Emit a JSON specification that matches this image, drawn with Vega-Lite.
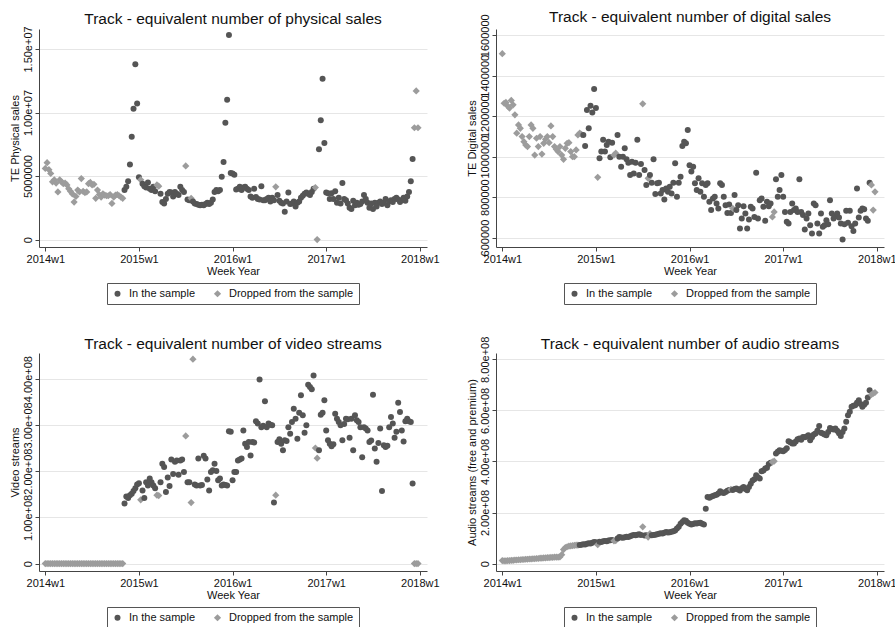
{
"$schema": "https://vega.github.io/schema/vega-lite/v6.json",
"background": "white",
"padding": {"left": 8, "top": 10, "right": 0, "bottom": 0},
"bounds": "flush",
"spacing": {"row": 106, "column": 69},
"columns": 2,
"config": {
"font": "Liberation Sans",
"view": {"stroke": null},
"axis": {"labelFont": "Liberation Sans", "titleFont": "Liberation Sans", "labelFontSize": 11, "titleFontSize": 11, "titleFontWeight": "normal", "labelColor": "#111111", "titleColor": "#111111", "domainColor": "#444444", "tickColor": "#444444", "tickSize": 4, "gridColor": "#e6e6e6", "labelPadding": 2, "labelFlush": false},
"axisX": {"grid": false, "titlePadding": 1},
"axisY": {"grid": true, "labelAngle": 270, "labelAlign": "center", "labelBaseline": "bottom", "labelOverlap": false, "titlePadding": 2},
"title": {"font": "Liberation Sans", "fontSize": 15.5, "fontWeight": "normal", "color": "#111111", "anchor": "middle", "frame": "group", "offset": 3},
"legend": {"orient": "bottom", "direction": "horizontal", "strokeColor": "#555555", "padding": 5, "offset": 7, "labelFont": "Liberation Sans", "labelFontSize": 11, "labelColor": "#111111", "columnPadding": 16, "labelOffset": 6, "layout": {"bottom": {"anchor": "middle"}}}
},
"datasets": {
"phys": [
{"w":0,"v":5.6e6,"g":"d"},{"w":1,"v":6.05e6,"g":"d"},{"w":2,"v":5.5e6,"g":"d"},{"w":3,"v":5.2e6,"g":"d"},{"w":4,"v":4.55e6,"g":"d"},{"w":5,"v":4.7e6,"g":"d"},{"w":6,"v":4.45e6,"g":"d"},{"w":7,"v":3.75e6,"g":"d"},{"w":8,"v":4.7e6,"g":"d"},{"w":9,"v":4.55e6,"g":"d"},
{"w":10,"v":4.4e6,"g":"d"},{"w":11,"v":4.45e6,"g":"d"},{"w":12,"v":4.3e6,"g":"d"},{"w":13,"v":4.0e6,"g":"d"},{"w":14,"v":3.8e6,"g":"d"},{"w":15,"v":3.6e6,"g":"d"},{"w":16,"v":2.95e6,"g":"d"},{"w":17,"v":3.4e6,"g":"d"},{"w":18,"v":3.9e6,"g":"d"},{"w":19,"v":3.75e6,"g":"d"},
{"w":20,"v":4.8e6,"g":"d"},{"w":21,"v":3.8e6,"g":"d"},{"w":22,"v":3.7e6,"g":"d"},{"w":23,"v":3.75e6,"g":"d"},{"w":24,"v":4.4e6,"g":"d"},{"w":25,"v":4.5e6,"g":"d"},{"w":26,"v":4.3e6,"g":"d"},{"w":27,"v":4.35e6,"g":"d"},{"w":28,"v":3.25e6,"g":"d"},{"w":29,"v":3.9e6,"g":"d"},
{"w":30,"v":3.55e6,"g":"d"},{"w":31,"v":3.35e6,"g":"d"},{"w":32,"v":3.6e6,"g":"d"},{"w":33,"v":3.5e6,"g":"d"},{"w":34,"v":3.45e6,"g":"d"},{"w":35,"v":3.45e6,"g":"d"},{"w":36,"v":3.55e6,"g":"d"},{"w":37,"v":2.85e6,"g":"d"},{"w":38,"v":3.35e6,"g":"d"},{"w":39,"v":3.5e6,"g":"d"},
{"w":40,"v":3.55e6,"g":"d"},{"w":41,"v":3.45e6,"g":"d"},{"w":42,"v":3.35e6,"g":"d"},{"w":43,"v":3.25e6,"g":"d"},{"w":44,"v":3.9e6,"g":"i"},{"w":45,"v":4.15e6,"g":"i"},{"w":46,"v":4.6e6,"g":"i"},{"w":47,"v":5.9e6,"g":"i"},{"w":48,"v":8.1e6,"g":"i"},{"w":49,"v":10.3e6,"g":"i"},
{"w":50,"v":13.8e6,"g":"i"},{"w":51,"v":10.7e6,"g":"i"},{"w":52,"v":4.9e6,"g":"i"},{"w":53,"v":4.7e6,"g":"d"},{"w":54,"v":4.4e6,"g":"i"},{"w":55,"v":4.2e6,"g":"i"},{"w":56,"v":4.1e6,"g":"i"},{"w":57,"v":4.5e6,"g":"i"},{"w":58,"v":4.0e6,"g":"i"},{"w":59,"v":3.9e6,"g":"i"},
{"w":60,"v":4.15e6,"g":"i"},{"w":61,"v":3.8e6,"g":"i"},{"w":62,"v":4.3e6,"g":"d"},{"w":63,"v":4.2e6,"g":"d"},{"w":64,"v":3.6e6,"g":"i"},{"w":65,"v":2.95e6,"g":"i"},{"w":66,"v":2.85e6,"g":"i"},{"w":67,"v":3.2e6,"g":"i"},{"w":68,"v":3.6e6,"g":"i"},{"w":69,"v":3.75e6,"g":"i"},
{"w":70,"v":3.7e6,"g":"i"},{"w":71,"v":3.4e6,"g":"i"},{"w":72,"v":3.75e6,"g":"i"},{"w":73,"v":3.6e6,"g":"i"},{"w":74,"v":3.5e6,"g":"i"},{"w":75,"v":4.15e6,"g":"i"},{"w":76,"v":3.9e6,"g":"i"},{"w":77,"v":3.75e6,"g":"i"},{"w":78,"v":5.8e6,"g":"d"},{"w":79,"v":3.15e6,"g":"i"},
{"w":80,"v":3.1e6,"g":"i"},{"w":81,"v":3.25e6,"g":"d"},{"w":82,"v":3.0e6,"g":"i"},{"w":83,"v":2.85e6,"g":"i"},{"w":84,"v":2.8e6,"g":"i"},{"w":85,"v":2.75e6,"g":"i"},{"w":86,"v":2.7e6,"g":"i"},{"w":87,"v":2.75e6,"g":"i"},{"w":88,"v":2.7e6,"g":"i"},{"w":89,"v":2.8e6,"g":"i"},
{"w":90,"v":2.9e6,"g":"i"},{"w":91,"v":2.8e6,"g":"i"},{"w":92,"v":2.9e6,"g":"i"},{"w":93,"v":3.15e6,"g":"i"},{"w":94,"v":3.75e6,"g":"i"},{"w":95,"v":3.9e6,"g":"i"},{"w":96,"v":3.8e6,"g":"i"},{"w":97,"v":3.9e6,"g":"i"},{"w":98,"v":4.95e6,"g":"i"},{"w":99,"v":6.1e6,"g":"i"},
{"w":100,"v":9.2e6,"g":"i"},{"w":101,"v":11.0e6,"g":"i"},{"w":102,"v":16.1e6,"g":"i"},{"w":103,"v":5.25e6,"g":"i"},{"w":104,"v":5.2e6,"g":"i"},{"w":105,"v":5.1e6,"g":"i"},{"w":106,"v":3.95e6,"g":"i"},{"w":107,"v":4.0e6,"g":"i"},{"w":108,"v":4.15e6,"g":"i"},{"w":109,"v":3.9e6,"g":"i"},
{"w":110,"v":4.1e6,"g":"i"},{"w":111,"v":4.15e6,"g":"i"},{"w":112,"v":4.0e6,"g":"i"},{"w":113,"v":3.9e6,"g":"i"},{"w":114,"v":3.4e6,"g":"i"},{"w":115,"v":3.3e6,"g":"i"},{"w":116,"v":4.0e6,"g":"i"},{"w":117,"v":3.35e6,"g":"i"},{"w":118,"v":3.2e6,"g":"i"},{"w":119,"v":3.15e6,"g":"i"},
{"w":120,"v":4.2e6,"g":"i"},{"w":121,"v":3.1e6,"g":"i"},{"w":122,"v":3.1e6,"g":"i"},{"w":123,"v":3.2e6,"g":"i"},{"w":124,"v":3.3e6,"g":"i"},{"w":125,"v":3.0e6,"g":"i"},{"w":126,"v":3.3e6,"g":"i"},{"w":127,"v":3.1e6,"g":"i"},{"w":128,"v":4.15e6,"g":"d"},{"w":129,"v":3.5e6,"g":"i"},
{"w":130,"v":3.05e6,"g":"i"},{"w":131,"v":2.9e6,"g":"i"},{"w":132,"v":2.85e6,"g":"i"},{"w":133,"v":2.2e6,"g":"i"},{"w":134,"v":3.0e6,"g":"i"},{"w":135,"v":3.7e6,"g":"i"},{"w":136,"v":2.8e6,"g":"i"},{"w":137,"v":2.85e6,"g":"i"},{"w":138,"v":3.0e6,"g":"i"},{"w":139,"v":2.6e6,"g":"i"},
{"w":140,"v":2.9e6,"g":"i"},{"w":141,"v":3.0e6,"g":"i"},{"w":142,"v":3.3e6,"g":"i"},{"w":143,"v":3.45e6,"g":"i"},{"w":144,"v":3.6e6,"g":"i"},{"w":145,"v":3.7e6,"g":"i"},{"w":146,"v":3.6e6,"g":"i"},{"w":147,"v":3.5e6,"g":"i"},{"w":148,"v":3.75e6,"g":"i"},{"w":149,"v":4.0e6,"g":"i"},
{"w":150,"v":4.1e6,"g":"d"},{"w":151,"v":0,"g":"d"},{"w":152,"v":7.1e6,"g":"i"},{"w":153,"v":9.4e6,"g":"i"},{"w":154,"v":12.65e6,"g":"i"},{"w":155,"v":7.6e6,"g":"i"},{"w":156,"v":3.7e6,"g":"i"},{"w":157,"v":3.65e6,"g":"i"},{"w":158,"v":3.2e6,"g":"i"},{"w":159,"v":3.65e6,"g":"i"},
{"w":160,"v":3.2e6,"g":"i"},{"w":161,"v":3.8e6,"g":"i"},{"w":162,"v":2.9e6,"g":"i"},{"w":163,"v":3.3e6,"g":"i"},{"w":164,"v":2.85e6,"g":"i"},{"w":165,"v":4.45e6,"g":"i"},{"w":166,"v":3.2e6,"g":"i"},{"w":167,"v":3.1e6,"g":"i"},{"w":168,"v":2.85e6,"g":"i"},{"w":169,"v":2.5e6,"g":"i"},
{"w":170,"v":2.4e6,"g":"i"},{"w":171,"v":3.05e6,"g":"i"},{"w":172,"v":2.7e6,"g":"i"},{"w":173,"v":2.9e6,"g":"i"},{"w":174,"v":2.75e6,"g":"i"},{"w":175,"v":2.8e6,"g":"i"},{"w":176,"v":3.0e6,"g":"i"},{"w":177,"v":3.5e6,"g":"i"},{"w":178,"v":3.2e6,"g":"i"},{"w":179,"v":2.9e6,"g":"i"},
{"w":180,"v":2.5e6,"g":"i"},{"w":181,"v":2.85e6,"g":"i"},{"w":182,"v":2.4e6,"g":"i"},{"w":183,"v":2.9e6,"g":"i"},{"w":184,"v":2.6e6,"g":"i"},{"w":185,"v":2.9e6,"g":"i"},{"w":186,"v":3.0e6,"g":"i"},{"w":187,"v":2.8e6,"g":"i"},{"w":188,"v":2.9e6,"g":"i"},{"w":189,"v":3.2e6,"g":"i"},
{"w":190,"v":2.7e6,"g":"i"},{"w":191,"v":3.0e6,"g":"i"},{"w":192,"v":3.1e6,"g":"i"},{"w":193,"v":2.95e6,"g":"i"},{"w":194,"v":3.2e6,"g":"i"},{"w":195,"v":3.3e6,"g":"i"},{"w":196,"v":3.15e6,"g":"i"},{"w":197,"v":2.95e6,"g":"i"},{"w":198,"v":3.1e6,"g":"i"},{"w":199,"v":3.3e6,"g":"i"},
{"w":200,"v":3.05e6,"g":"i"},{"w":201,"v":3.4e6,"g":"i"},{"w":202,"v":3.75e6,"g":"i"},{"w":203,"v":4.6e6,"g":"i"},{"w":204,"v":6.35e6,"g":"i"},{"w":205,"v":8.8e6,"g":"d"},{"w":206,"v":11.7e6,"g":"d"},{"w":207,"v":8.8e6,"g":"d"}
],
"dig": [
{"w":0,"v":1509e3,"g":"d"},{"w":1,"v":1264e3,"g":"d"},{"w":2,"v":1268e3,"g":"d"},{"w":3,"v":1250e3,"g":"d"},{"w":4,"v":1240e3,"g":"d"},{"w":5,"v":1278e3,"g":"d"},{"w":6,"v":1256e3,"g":"d"},{"w":7,"v":1207e3,"g":"d"},{"w":8,"v":1116e3,"g":"d"},{"w":9,"v":1157e3,"g":"d"},
{"w":10,"v":1140e3,"g":"d"},{"w":11,"v":1099e3,"g":"d"},{"w":12,"v":1074e3,"g":"d"},{"w":13,"v":1058e3,"g":"d"},{"w":14,"v":1050e3,"g":"d"},{"w":15,"v":1099e3,"g":"d"},{"w":16,"v":1157e3,"g":"d"},{"w":17,"v":1140e3,"g":"d"},{"w":18,"v":1008e3,"g":"d"},{"w":19,"v":1091e3,"g":"d"},
{"w":20,"v":1050e3,"g":"d"},{"w":21,"v":1099e3,"g":"d"},{"w":22,"v":1013e3,"g":"d"},{"w":23,"v":1066e3,"g":"d"},{"w":24,"v":1086e3,"g":"d"},{"w":25,"v":1099e3,"g":"d"},{"w":26,"v":1069e3,"g":"d"},{"w":27,"v":1152e3,"g":"d"},{"w":28,"v":1099e3,"g":"d"},{"w":29,"v":1050e3,"g":"d"},
{"w":30,"v":1036e3,"g":"d"},{"w":31,"v":1025e3,"g":"d"},{"w":32,"v":1050e3,"g":"d"},{"w":33,"v":1008e3,"g":"d"},{"w":34,"v":987e3,"g":"d"},{"w":35,"v":1041e3,"g":"d"},{"w":36,"v":1066e3,"g":"d"},{"w":37,"v":1069e3,"g":"d"},{"w":38,"v":1025e3,"g":"d"},{"w":39,"v":1000e3,"g":"d"},
{"w":40,"v":1000e3,"g":"d"},{"w":41,"v":1033e3,"g":"d"},{"w":42,"v":1107e3,"g":"d"},{"w":43,"v":1116e3,"g":"d"},{"w":44,"v":1110e3,"g":"d"},{"w":45,"v":1107e3,"g":"i"},{"w":46,"v":1053e3,"g":"i"},{"w":47,"v":1231e3,"g":"i"},{"w":48,"v":1140e3,"g":"i"},{"w":49,"v":1251e3,"g":"i"},
{"w":50,"v":1218e3,"g":"i"},{"w":51,"v":1334e3,"g":"i"},{"w":52,"v":1240e3,"g":"i"},{"w":53,"v":898e3,"g":"d"},{"w":54,"v":992e3,"g":"i"},{"w":55,"v":1025e3,"g":"i"},{"w":56,"v":1083e3,"g":"i"},{"w":57,"v":1025e3,"g":"i"},{"w":58,"v":1058e3,"g":"i"},{"w":59,"v":1074e3,"g":"i"},
{"w":60,"v":997e3,"g":"i"},{"w":61,"v":1069e3,"g":"i"},{"w":62,"v":1008e3,"g":"d"},{"w":63,"v":1017e3,"g":"d"},{"w":64,"v":1107e3,"g":"i"},{"w":65,"v":1000e3,"g":"i"},{"w":66,"v":950e3,"g":"i"},{"w":67,"v":1000e3,"g":"i"},{"w":68,"v":1041e3,"g":"i"},{"w":69,"v":987e3,"g":"i"},
{"w":70,"v":970e3,"g":"i"},{"w":71,"v":909e3,"g":"i"},{"w":72,"v":975e3,"g":"i"},{"w":73,"v":917e3,"g":"i"},{"w":74,"v":970e3,"g":"i"},{"w":75,"v":1083e3,"g":"i"},{"w":76,"v":909e3,"g":"i"},{"w":77,"v":964e3,"g":"i"},{"w":78,"v":1261e3,"g":"d"},{"w":79,"v":934e3,"g":"i"},
{"w":80,"v":860e3,"g":"i"},{"w":81,"v":893e3,"g":"d"},{"w":82,"v":909e3,"g":"i"},{"w":83,"v":871e3,"g":"i"},{"w":84,"v":987e3,"g":"i"},{"w":85,"v":815e3,"g":"i"},{"w":86,"v":868e3,"g":"i"},{"w":87,"v":871e3,"g":"i"},{"w":88,"v":818e3,"g":"i"},{"w":89,"v":835e3,"g":"i"},
{"w":90,"v":788e3,"g":"i"},{"w":91,"v":843e3,"g":"i"},{"w":92,"v":826e3,"g":"i"},{"w":93,"v":851e3,"g":"i"},{"w":94,"v":818e3,"g":"i"},{"w":95,"v":871e3,"g":"i"},{"w":96,"v":967e3,"g":"i"},{"w":97,"v":802e3,"g":"i"},{"w":98,"v":871e3,"g":"i"},{"w":99,"v":901e3,"g":"i"},
{"w":100,"v":1053e3,"g":"i"},{"w":101,"v":1074e3,"g":"i"},{"w":102,"v":1066e3,"g":"i"},{"w":103,"v":1132e3,"g":"i"},{"w":104,"v":958e3,"g":"i"},{"w":105,"v":926e3,"g":"i"},{"w":106,"v":950e3,"g":"i"},{"w":107,"v":868e3,"g":"i"},{"w":108,"v":835e3,"g":"i"},{"w":109,"v":893e3,"g":"i"},
{"w":110,"v":826e3,"g":"i"},{"w":111,"v":868e3,"g":"i"},{"w":112,"v":802e3,"g":"i"},{"w":113,"v":860e3,"g":"i"},{"w":114,"v":868e3,"g":"i"},{"w":115,"v":777e3,"g":"i"},{"w":116,"v":736e3,"g":"i"},{"w":117,"v":793e3,"g":"i"},{"w":118,"v":802e3,"g":"i"},{"w":119,"v":769e3,"g":"i"},
{"w":120,"v":744e3,"g":"i"},{"w":121,"v":868e3,"g":"i"},{"w":122,"v":860e3,"g":"i"},{"w":123,"v":802e3,"g":"i"},{"w":124,"v":760e3,"g":"i"},{"w":125,"v":722e3,"g":"i"},{"w":126,"v":764e3,"g":"i"},{"w":127,"v":722e3,"g":"i"},{"w":128,"v":744e3,"g":"d"},{"w":129,"v":810e3,"g":"i"},
{"w":130,"v":736e3,"g":"i"},{"w":131,"v":760e3,"g":"i"},{"w":132,"v":645e3,"g":"i"},{"w":133,"v":694e3,"g":"i"},{"w":134,"v":755e3,"g":"i"},{"w":135,"v":719e3,"g":"i"},{"w":136,"v":645e3,"g":"i"},{"w":137,"v":689e3,"g":"i"},{"w":138,"v":752e3,"g":"i"},{"w":139,"v":744e3,"g":"i"},
{"w":140,"v":702e3,"g":"i"},{"w":141,"v":921e3,"g":"i"},{"w":142,"v":694e3,"g":"i"},{"w":143,"v":785e3,"g":"i"},{"w":144,"v":793e3,"g":"i"},{"w":145,"v":752e3,"g":"i"},{"w":146,"v":683e3,"g":"i"},{"w":147,"v":777e3,"g":"i"},{"w":148,"v":755e3,"g":"i"},{"w":149,"v":769e3,"g":"i"},
{"w":150,"v":702e3,"g":"d"},{"w":151,"v":727e3,"g":"d"},{"w":152,"v":888e3,"g":"i"},{"w":153,"v":802e3,"g":"i"},{"w":154,"v":835e3,"g":"i"},{"w":155,"v":909e3,"g":"i"},{"w":156,"v":802e3,"g":"i"},{"w":157,"v":727e3,"g":"i"},{"w":158,"v":678e3,"g":"i"},{"w":159,"v":669e3,"g":"i"},
{"w":160,"v":727e3,"g":"i"},{"w":161,"v":769e3,"g":"i"},{"w":162,"v":736e3,"g":"i"},{"w":163,"v":744e3,"g":"i"},{"w":164,"v":727e3,"g":"i"},{"w":165,"v":888e3,"g":"i"},{"w":166,"v":727e3,"g":"i"},{"w":167,"v":711e3,"g":"i"},{"w":168,"v":640e3,"g":"i"},{"w":169,"v":694e3,"g":"i"},
{"w":170,"v":719e3,"g":"i"},{"w":171,"v":661e3,"g":"i"},{"w":172,"v":620e3,"g":"i"},{"w":173,"v":769e3,"g":"i"},{"w":174,"v":760e3,"g":"i"},{"w":175,"v":669e3,"g":"i"},{"w":176,"v":620e3,"g":"i"},{"w":177,"v":719e3,"g":"i"},{"w":178,"v":653e3,"g":"i"},{"w":179,"v":661e3,"g":"i"},
{"w":180,"v":686e3,"g":"i"},{"w":181,"v":666e3,"g":"i"},{"w":182,"v":785e3,"g":"i"},{"w":183,"v":719e3,"g":"i"},{"w":184,"v":694e3,"g":"i"},{"w":185,"v":706e3,"g":"i"},{"w":186,"v":719e3,"g":"i"},{"w":187,"v":699e3,"g":"i"},{"w":188,"v":669e3,"g":"i"},{"w":189,"v":590e3,"g":"i"},
{"w":190,"v":666e3,"g":"i"},{"w":191,"v":732e3,"g":"i"},{"w":192,"v":673e3,"g":"i"},{"w":193,"v":732e3,"g":"i"},{"w":194,"v":656e3,"g":"i"},{"w":195,"v":633e3,"g":"i"},{"w":196,"v":669e3,"g":"i"},{"w":197,"v":843e3,"g":"i"},{"w":198,"v":699e3,"g":"i"},{"w":199,"v":732e3,"g":"i"},
{"w":200,"v":744e3,"g":"i"},{"w":201,"v":740e3,"g":"i"},{"w":202,"v":694e3,"g":"i"},{"w":203,"v":683e3,"g":"i"},{"w":204,"v":871e3,"g":"i"},{"w":205,"v":860e3,"g":"d"},{"w":206,"v":736e3,"g":"d"},{"w":207,"v":826e3,"g":"d"}
],
"vid": [
{"w":0,"v":0,"g":"d"},{"w":1,"v":0,"g":"d"},{"w":2,"v":0,"g":"d"},{"w":3,"v":0,"g":"d"},{"w":4,"v":0,"g":"d"},{"w":5,"v":0,"g":"d"},{"w":6,"v":0,"g":"d"},{"w":7,"v":0,"g":"d"},{"w":8,"v":0,"g":"d"},{"w":9,"v":0,"g":"d"},
{"w":10,"v":0,"g":"d"},{"w":11,"v":0,"g":"d"},{"w":12,"v":0,"g":"d"},{"w":13,"v":0,"g":"d"},{"w":14,"v":0,"g":"d"},{"w":15,"v":0,"g":"d"},{"w":16,"v":0,"g":"d"},{"w":17,"v":0,"g":"d"},{"w":18,"v":0,"g":"d"},{"w":19,"v":0,"g":"d"},
{"w":20,"v":0,"g":"d"},{"w":21,"v":0,"g":"d"},{"w":22,"v":0,"g":"d"},{"w":23,"v":0,"g":"d"},{"w":24,"v":0,"g":"d"},{"w":25,"v":0,"g":"d"},{"w":26,"v":0,"g":"d"},{"w":27,"v":0,"g":"d"},{"w":28,"v":0,"g":"d"},{"w":29,"v":0,"g":"d"},
{"w":30,"v":0,"g":"d"},{"w":31,"v":0,"g":"d"},{"w":32,"v":0,"g":"d"},{"w":33,"v":0,"g":"d"},{"w":34,"v":0,"g":"d"},{"w":35,"v":0,"g":"d"},{"w":36,"v":0,"g":"d"},{"w":37,"v":0,"g":"d"},{"w":38,"v":0,"g":"d"},{"w":39,"v":0,"g":"d"},
{"w":40,"v":0,"g":"d"},{"w":41,"v":0,"g":"d"},{"w":42,"v":0,"g":"d"},{"w":43,"v":0,"g":"d"},{"w":44,"v":130e6,"g":"i"},{"w":45,"v":145e6,"g":"i"},{"w":46,"v":142e6,"g":"i"},{"w":47,"v":148e6,"g":"i"},{"w":48,"v":151e6,"g":"i"},{"w":49,"v":157e6,"g":"i"},
{"w":50,"v":163e6,"g":"i"},{"w":51,"v":171e6,"g":"i"},{"w":52,"v":174e6,"g":"i"},{"w":53,"v":138e6,"g":"d"},{"w":54,"v":158e6,"g":"i"},{"w":55,"v":142e6,"g":"i"},{"w":56,"v":176e6,"g":"i"},{"w":57,"v":169e6,"g":"i"},{"w":58,"v":184e6,"g":"i"},{"w":59,"v":176e6,"g":"i"},
{"w":60,"v":169e6,"g":"i"},{"w":61,"v":163e6,"g":"i"},{"w":62,"v":148e6,"g":"d"},{"w":63,"v":147e6,"g":"d"},{"w":64,"v":176e6,"g":"i"},{"w":65,"v":216e6,"g":"i"},{"w":66,"v":209e6,"g":"i"},{"w":67,"v":155e6,"g":"i"},{"w":68,"v":186e6,"g":"i"},{"w":69,"v":168e6,"g":"i"},
{"w":70,"v":225e6,"g":"i"},{"w":71,"v":194e6,"g":"i"},{"w":72,"v":220e6,"g":"i"},{"w":73,"v":223e6,"g":"i"},{"w":74,"v":192e6,"g":"i"},{"w":75,"v":223e6,"g":"i"},{"w":76,"v":225e6,"g":"i"},{"w":77,"v":198e6,"g":"i"},{"w":78,"v":276e6,"g":"d"},{"w":79,"v":176e6,"g":"i"},
{"w":80,"v":176e6,"g":"i"},{"w":81,"v":132e6,"g":"d"},{"w":82,"v":442e6,"g":"d"},{"w":83,"v":171e6,"g":"i"},{"w":84,"v":169e6,"g":"i"},{"w":85,"v":227e6,"g":"i"},{"w":86,"v":169e6,"g":"i"},{"w":87,"v":170e6,"g":"i"},{"w":88,"v":233e6,"g":"i"},{"w":89,"v":227e6,"g":"i"},
{"w":90,"v":182e6,"g":"i"},{"w":91,"v":158e6,"g":"i"},{"w":92,"v":198e6,"g":"i"},{"w":93,"v":202e6,"g":"i"},{"w":94,"v":216e6,"g":"i"},{"w":95,"v":200e6,"g":"i"},{"w":96,"v":180e6,"g":"i"},{"w":97,"v":184e6,"g":"i"},{"w":98,"v":169e6,"g":"i"},{"w":99,"v":171e6,"g":"i"},
{"w":100,"v":170e6,"g":"i"},{"w":101,"v":169e6,"g":"i"},{"w":102,"v":286e6,"g":"i"},{"w":103,"v":285e6,"g":"i"},{"w":104,"v":180e6,"g":"i"},{"w":105,"v":198e6,"g":"i"},{"w":106,"v":198e6,"g":"i"},{"w":107,"v":223e6,"g":"i"},{"w":108,"v":225e6,"g":"i"},{"w":109,"v":227e6,"g":"i"},
{"w":110,"v":288e6,"g":"i"},{"w":111,"v":259e6,"g":"i"},{"w":112,"v":252e6,"g":"i"},{"w":113,"v":263e6,"g":"i"},{"w":114,"v":234e6,"g":"i"},{"w":115,"v":263e6,"g":"i"},{"w":116,"v":262e6,"g":"i"},{"w":117,"v":308e6,"g":"i"},{"w":118,"v":303e6,"g":"i"},{"w":119,"v":398e6,"g":"i"},
{"w":120,"v":295e6,"g":"i"},{"w":121,"v":298e6,"g":"i"},{"w":122,"v":351e6,"g":"i"},{"w":123,"v":295e6,"g":"i"},{"w":124,"v":303e6,"g":"i"},{"w":125,"v":300e6,"g":"i"},{"w":126,"v":299e6,"g":"i"},{"w":127,"v":132e6,"g":"i"},{"w":128,"v":148e6,"g":"d"},{"w":129,"v":263e6,"g":"i"},
{"w":130,"v":269e6,"g":"i"},{"w":131,"v":259e6,"g":"i"},{"w":132,"v":245e6,"g":"i"},{"w":133,"v":267e6,"g":"i"},{"w":134,"v":265e6,"g":"i"},{"w":135,"v":295e6,"g":"i"},{"w":136,"v":281e6,"g":"i"},{"w":137,"v":306e6,"g":"i"},{"w":138,"v":335e6,"g":"i"},{"w":139,"v":313e6,"g":"i"},
{"w":140,"v":270e6,"g":"i"},{"w":141,"v":326e6,"g":"i"},{"w":142,"v":364e6,"g":"i"},{"w":143,"v":321e6,"g":"i"},{"w":144,"v":283e6,"g":"i"},{"w":145,"v":299e6,"g":"i"},{"w":146,"v":387e6,"g":"i"},{"w":147,"v":382e6,"g":"i"},{"w":148,"v":377e6,"g":"i"},{"w":149,"v":407e6,"g":"i"},
{"w":150,"v":250e6,"g":"d"},{"w":151,"v":228e6,"g":"d"},{"w":152,"v":245e6,"g":"i"},{"w":153,"v":322e6,"g":"i"},{"w":154,"v":326e6,"g":"i"},{"w":155,"v":353e6,"g":"i"},{"w":156,"v":288e6,"g":"i"},{"w":157,"v":267e6,"g":"i"},{"w":158,"v":259e6,"g":"i"},{"w":159,"v":254e6,"g":"i"},
{"w":160,"v":258e6,"g":"i"},{"w":161,"v":324e6,"g":"i"},{"w":162,"v":313e6,"g":"i"},{"w":163,"v":306e6,"g":"i"},{"w":164,"v":299e6,"g":"i"},{"w":165,"v":267e6,"g":"i"},{"w":166,"v":302e6,"g":"i"},{"w":167,"v":313e6,"g":"i"},{"w":168,"v":312e6,"g":"i"},{"w":169,"v":272e6,"g":"i"},
{"w":170,"v":313e6,"g":"i"},{"w":171,"v":245e6,"g":"i"},{"w":172,"v":321e6,"g":"i"},{"w":173,"v":310e6,"g":"i"},{"w":174,"v":306e6,"g":"i"},{"w":175,"v":295e6,"g":"i"},{"w":176,"v":230e6,"g":"i"},{"w":177,"v":295e6,"g":"i"},{"w":178,"v":292e6,"g":"i"},{"w":179,"v":288e6,"g":"i"},
{"w":180,"v":263e6,"g":"i"},{"w":181,"v":266e6,"g":"i"},{"w":182,"v":365e6,"g":"i"},{"w":183,"v":249e6,"g":"i"},{"w":184,"v":220e6,"g":"i"},{"w":185,"v":261e6,"g":"i"},{"w":186,"v":292e6,"g":"i"},{"w":187,"v":157e6,"g":"i"},{"w":188,"v":256e6,"g":"i"},{"w":189,"v":252e6,"g":"i"},
{"w":190,"v":255e6,"g":"i"},{"w":191,"v":295e6,"g":"i"},{"w":192,"v":317e6,"g":"i"},{"w":193,"v":303e6,"g":"i"},{"w":194,"v":272e6,"g":"i"},{"w":195,"v":285e6,"g":"i"},{"w":196,"v":348e6,"g":"i"},{"w":197,"v":328e6,"g":"i"},{"w":198,"v":288e6,"g":"i"},{"w":199,"v":264e6,"g":"i"},
{"w":200,"v":308e6,"g":"i"},{"w":201,"v":313e6,"g":"i"},{"w":202,"v":308e6,"g":"i"},{"w":203,"v":306e6,"g":"i"},{"w":204,"v":173e6,"g":"i"},{"w":205,"v":0,"g":"d"},{"w":206,"v":0,"g":"d"},{"w":207,"v":0,"g":"d"}
],
"aud": [
{"w":0,"v":12e6,"g":"d"},{"w":1,"v":11e6,"g":"d"},{"w":2,"v":11e6,"g":"d"},{"w":3,"v":12e6,"g":"d"},{"w":4,"v":12e6,"g":"d"},{"w":5,"v":13e6,"g":"d"},{"w":6,"v":13e6,"g":"d"},{"w":7,"v":14e6,"g":"d"},{"w":8,"v":14e6,"g":"d"},{"w":9,"v":15e6,"g":"d"},
{"w":10,"v":15e6,"g":"d"},{"w":11,"v":16e6,"g":"d"},{"w":12,"v":16e6,"g":"d"},{"w":13,"v":17e6,"g":"d"},{"w":14,"v":17e6,"g":"d"},{"w":15,"v":18e6,"g":"d"},{"w":16,"v":18e6,"g":"d"},{"w":17,"v":19e6,"g":"d"},{"w":18,"v":19e6,"g":"d"},{"w":19,"v":20e6,"g":"d"},
{"w":20,"v":20e6,"g":"d"},{"w":21,"v":21e6,"g":"d"},{"w":22,"v":21e6,"g":"d"},{"w":23,"v":22e6,"g":"d"},{"w":24,"v":22e6,"g":"d"},{"w":25,"v":23e6,"g":"d"},{"w":26,"v":23e6,"g":"d"},{"w":27,"v":24e6,"g":"d"},{"w":28,"v":24e6,"g":"d"},{"w":29,"v":25e6,"g":"d"},
{"w":30,"v":25e6,"g":"d"},{"w":31,"v":25e6,"g":"d"},{"w":32,"v":26e6,"g":"d"},{"w":33,"v":35e6,"g":"d"},{"w":34,"v":55e6,"g":"d"},{"w":35,"v":63e6,"g":"d"},{"w":36,"v":66e6,"g":"d"},{"w":37,"v":68e6,"g":"d"},{"w":38,"v":69e6,"g":"d"},{"w":39,"v":70e6,"g":"d"},
{"w":40,"v":71e6,"g":"d"},{"w":41,"v":72e6,"g":"d"},{"w":42,"v":72e6,"g":"d"},{"w":43,"v":73e6,"g":"i"},{"w":44,"v":74e6,"g":"i"},{"w":45,"v":76e6,"g":"i"},{"w":46,"v":75e6,"g":"i"},{"w":47,"v":78e6,"g":"i"},{"w":48,"v":80e6,"g":"i"},{"w":49,"v":79e6,"g":"i"},
{"w":50,"v":82e6,"g":"i"},{"w":51,"v":85e6,"g":"i"},{"w":52,"v":84e6,"g":"i"},{"w":53,"v":74e6,"g":"d"},{"w":54,"v":86e6,"g":"i"},{"w":55,"v":85e6,"g":"i"},{"w":56,"v":87e6,"g":"i"},{"w":57,"v":88e6,"g":"i"},{"w":58,"v":87e6,"g":"i"},{"w":59,"v":90e6,"g":"i"},
{"w":60,"v":91e6,"g":"i"},{"w":61,"v":92e6,"g":"i"},{"w":62,"v":89e6,"g":"d"},{"w":63,"v":90e6,"g":"d"},{"w":64,"v":98e6,"g":"i"},{"w":65,"v":104e6,"g":"i"},{"w":66,"v":102e6,"g":"i"},{"w":67,"v":101e6,"g":"i"},{"w":68,"v":103e6,"g":"i"},{"w":69,"v":105e6,"g":"i"},
{"w":70,"v":104e6,"g":"i"},{"w":71,"v":107e6,"g":"i"},{"w":72,"v":110e6,"g":"i"},{"w":73,"v":112e6,"g":"i"},{"w":74,"v":111e6,"g":"i"},{"w":75,"v":113e6,"g":"i"},{"w":76,"v":115e6,"g":"i"},{"w":77,"v":112e6,"g":"i"},{"w":78,"v":144e6,"g":"d"},{"w":79,"v":110e6,"g":"i"},
{"w":80,"v":111e6,"g":"i"},{"w":81,"v":104e6,"g":"d"},{"w":82,"v":117e6,"g":"d"},{"w":83,"v":111e6,"g":"i"},{"w":84,"v":112e6,"g":"i"},{"w":85,"v":113e6,"g":"i"},{"w":86,"v":115e6,"g":"i"},{"w":87,"v":117e6,"g":"i"},{"w":88,"v":119e6,"g":"i"},{"w":89,"v":118e6,"g":"i"},
{"w":90,"v":121e6,"g":"i"},{"w":91,"v":124e6,"g":"i"},{"w":92,"v":122e6,"g":"i"},{"w":93,"v":123e6,"g":"i"},{"w":94,"v":125e6,"g":"i"},{"w":95,"v":127e6,"g":"i"},{"w":96,"v":130e6,"g":"i"},{"w":97,"v":137e6,"g":"i"},{"w":98,"v":144e6,"g":"i"},{"w":99,"v":156e6,"g":"i"},
{"w":100,"v":163e6,"g":"i"},{"w":101,"v":170e6,"g":"i"},{"w":102,"v":168e6,"g":"i"},{"w":103,"v":160e6,"g":"i"},{"w":104,"v":156e6,"g":"i"},{"w":105,"v":153e6,"g":"i"},{"w":106,"v":155e6,"g":"i"},{"w":107,"v":158e6,"g":"i"},{"w":108,"v":157e6,"g":"i"},{"w":109,"v":159e6,"g":"i"},
{"w":110,"v":160e6,"g":"i"},{"w":111,"v":156e6,"g":"i"},{"w":112,"v":153e6,"g":"i"},{"w":113,"v":215e6,"g":"i"},{"w":114,"v":261e6,"g":"i"},{"w":115,"v":258e6,"g":"i"},{"w":116,"v":262e6,"g":"i"},{"w":117,"v":265e6,"g":"i"},{"w":118,"v":268e6,"g":"i"},{"w":119,"v":270e6,"g":"i"},
{"w":120,"v":274e6,"g":"i"},{"w":121,"v":283e6,"g":"i"},{"w":122,"v":278e6,"g":"i"},{"w":123,"v":276e6,"g":"i"},{"w":124,"v":280e6,"g":"i"},{"w":125,"v":285e6,"g":"i"},{"w":126,"v":288e6,"g":"i"},{"w":127,"v":291e6,"g":"d"},{"w":128,"v":288e6,"g":"i"},{"w":129,"v":292e6,"g":"i"},
{"w":130,"v":294e6,"g":"i"},{"w":131,"v":290e6,"g":"i"},{"w":132,"v":286e6,"g":"i"},{"w":133,"v":295e6,"g":"i"},{"w":134,"v":300e6,"g":"i"},{"w":135,"v":292e6,"g":"i"},{"w":136,"v":287e6,"g":"i"},{"w":137,"v":300e6,"g":"i"},{"w":138,"v":313e6,"g":"i"},{"w":139,"v":325e6,"g":"i"},
{"w":140,"v":330e6,"g":"i"},{"w":141,"v":346e6,"g":"i"},{"w":142,"v":338e6,"g":"i"},{"w":143,"v":333e6,"g":"i"},{"w":144,"v":362e6,"g":"i"},{"w":145,"v":365e6,"g":"i"},{"w":146,"v":372e6,"g":"i"},{"w":147,"v":375e6,"g":"i"},{"w":148,"v":390e6,"g":"i"},{"w":149,"v":395e6,"g":"i"},
{"w":150,"v":398e6,"g":"d"},{"w":151,"v":401e6,"g":"d"},{"w":152,"v":431e6,"g":"i"},{"w":153,"v":438e6,"g":"i"},{"w":154,"v":444e6,"g":"i"},{"w":155,"v":442e6,"g":"i"},{"w":156,"v":440e6,"g":"i"},{"w":157,"v":445e6,"g":"i"},{"w":158,"v":452e6,"g":"i"},{"w":159,"v":479e6,"g":"i"},
{"w":160,"v":475e6,"g":"i"},{"w":161,"v":470e6,"g":"i"},{"w":162,"v":470e6,"g":"i"},{"w":163,"v":478e6,"g":"i"},{"w":164,"v":487e6,"g":"i"},{"w":165,"v":490e6,"g":"i"},{"w":166,"v":485e6,"g":"i"},{"w":167,"v":496e6,"g":"i"},{"w":168,"v":495e6,"g":"i"},{"w":169,"v":498e6,"g":"i"},
{"w":170,"v":503e6,"g":"i"},{"w":171,"v":483e6,"g":"i"},{"w":172,"v":495e6,"g":"i"},{"w":173,"v":505e6,"g":"i"},{"w":174,"v":509e6,"g":"i"},{"w":175,"v":520e6,"g":"i"},{"w":176,"v":539e6,"g":"i"},{"w":177,"v":512e6,"g":"i"},{"w":178,"v":509e6,"g":"i"},{"w":179,"v":505e6,"g":"i"},
{"w":180,"v":503e6,"g":"i"},{"w":181,"v":515e6,"g":"i"},{"w":182,"v":531e6,"g":"i"},{"w":183,"v":527e6,"g":"i"},{"w":184,"v":525e6,"g":"i"},{"w":185,"v":529e6,"g":"i"},{"w":186,"v":520e6,"g":"i"},{"w":187,"v":510e6,"g":"i"},{"w":188,"v":500e6,"g":"i"},{"w":189,"v":515e6,"g":"i"},
{"w":190,"v":529e6,"g":"i"},{"w":191,"v":555e6,"g":"i"},{"w":192,"v":581e6,"g":"i"},{"w":193,"v":595e6,"g":"i"},{"w":194,"v":614e6,"g":"i"},{"w":195,"v":618e6,"g":"i"},{"w":196,"v":620e6,"g":"i"},{"w":197,"v":630e6,"g":"i"},{"w":198,"v":640e6,"g":"i"},{"w":199,"v":625e6,"g":"i"},
{"w":200,"v":614e6,"g":"i"},{"w":201,"v":622e6,"g":"i"},{"w":202,"v":630e6,"g":"i"},{"w":203,"v":650e6,"g":"i"},{"w":204,"v":679e6,"g":"i"},{"w":205,"v":662e6,"g":"d"},{"w":206,"v":666e6,"g":"d"},{"w":207,"v":670e6,"g":"d"}
]
},
"concat": [
{
"title": {"text": "Track - equivalent number of physical sales", "offset": -1.4},
"width": 388, "height": 218,
"data": {"name": "phys"},
"mark": {"type": "point", "filled": true, "opacity": 1},
"encoding": {
"x": {"field": "w", "type": "quantitative", "scale": {"domain": [-3.5, 212], "nice": false, "zero": false}, "axis": {"title": "Week Year", "values": [0, 52, 104, 156, 208], "labelExpr": "(2014 + round(datum.value / 52)) + 'w1'"}},
"y": {"field": "v", "type": "quantitative", "scale": {"domain": [-582000, 16570000], "nice": false, "zero": false}, "axis": {"title": "TE Physical sales", "values": [0, 5000000, 10000000, 15000000], "labelExpr": "datum.value == 0 ? '0' : datum.value == 5000000 ? '5000000' : datum.value == 10000000 ? '1.00e+07' : '1.50e+07'"}},
"color": {"field": "g", "type": "nominal", "scale": {"domain": ["i", "d"], "range": ["#555555", "#9c9c9c"]}, "legend": {"title": null, "labelExpr": "datum.label == 'i' ? 'In the sample' : 'Dropped from the sample'"}},
"shape": {"field": "g", "type": "nominal", "scale": {"domain": ["i", "d"], "range": ["circle", "diamond"]}},
"size": {"field": "g", "type": "nominal", "scale": {"domain": ["i", "d"], "range": [36, 52]}}
}
},
{
"title": {"text": "Track - equivalent number of digital sales", "offset": -11.9},
"width": 388, "height": 218,
"data": {"name": "dig"},
"mark": {"type": "point", "filled": true, "opacity": 1},
"encoding": {
"x": {"field": "w", "type": "quantitative", "scale": {"domain": [-3.5, 212], "nice": false, "zero": false}, "axis": {"title": "Week Year", "values": [0, 52, 104, 156, 208], "labelExpr": "(2014 + round(datum.value / 52)) + 'w1'"}},
"y": {"field": "v", "type": "quantitative", "scale": {"domain": [553400, 1631000], "nice": false, "zero": false}, "axis": {"title": "TE Digital sales", "values": [600000, 800000, 1000000, 1200000, 1400000, 1600000], "format": "d"}},
"color": {"field": "g", "type": "nominal", "scale": {"domain": ["i", "d"], "range": ["#555555", "#9c9c9c"]}, "legend": {"title": null, "labelExpr": "datum.label == 'i' ? 'In the sample' : 'Dropped from the sample'"}},
"shape": {"field": "g", "type": "nominal", "scale": {"domain": ["i", "d"], "range": ["circle", "diamond"]}},
"size": {"field": "g", "type": "nominal", "scale": {"domain": ["i", "d"], "range": [36, 52]}}
}
},
{
"title": {"text": "Track - equivalent number of video streams", "offset": 1},
"width": 388, "height": 218,
"data": {"name": "vid"},
"mark": {"type": "point", "filled": true, "opacity": 1},
"encoding": {
"x": {"field": "w", "type": "quantitative", "scale": {"domain": [-3.5, 212], "nice": false, "zero": false}, "axis": {"title": "Week Year", "values": [0, 52, 104, 156, 208], "labelExpr": "(2014 + round(datum.value / 52)) + 'w1'"}},
"y": {"field": "v", "type": "quantitative", "scale": {"domain": [-16000000, 455400000], "nice": false, "zero": false}, "axis": {"title": "Video streams", "values": [0, 100000000, 200000000, 300000000, 400000000], "labelExpr": "datum.value == 0 ? '0' : format(datum.value / 100000000, '.2f') + 'e+08'"}},
"color": {"field": "g", "type": "nominal", "scale": {"domain": ["i", "d"], "range": ["#555555", "#9c9c9c"]}, "legend": {"title": null, "labelExpr": "datum.label == 'i' ? 'In the sample' : 'Dropped from the sample'"}},
"shape": {"field": "g", "type": "nominal", "scale": {"domain": ["i", "d"], "range": ["circle", "diamond"]}},
"size": {"field": "g", "type": "nominal", "scale": {"domain": ["i", "d"], "range": [36, 52]}}
}
},
{
"title": {"text": "Track - equivalent number of audio streams", "offset": -16},
"width": 388, "height": 218,
"data": {"name": "aud"},
"mark": {"type": "point", "filled": true, "opacity": 1},
"encoding": {
"x": {"field": "w", "type": "quantitative", "scale": {"domain": [-3.5, 212], "nice": false, "zero": false}, "axis": {"title": "Week Year", "values": [0, 52, 104, 156, 208], "labelExpr": "(2014 + round(datum.value / 52)) + 'w1'"}},
"y": {"field": "v", "type": "quantitative", "scale": {"domain": [-29000000, 824600000], "nice": false, "zero": false}, "axis": {"title": "Audio streams (free and premium)", "values": [0, 200000000, 400000000, 600000000, 800000000], "labelExpr": "datum.value == 0 ? '0' : format(datum.value / 100000000, '.2f') + 'e+08'"}},
"color": {"field": "g", "type": "nominal", "scale": {"domain": ["i", "d"], "range": ["#555555", "#9c9c9c"]}, "legend": {"title": null, "labelExpr": "datum.label == 'i' ? 'In the sample' : 'Dropped from the sample'"}},
"shape": {"field": "g", "type": "nominal", "scale": {"domain": ["i", "d"], "range": ["circle", "diamond"]}},
"size": {"field": "g", "type": "nominal", "scale": {"domain": ["i", "d"], "range": [36, 52]}}
}
}
],
"resolve": {"scale": {"x": "independent", "y": "independent", "color": "independent", "shape": "independent", "size": "independent"}}
}
